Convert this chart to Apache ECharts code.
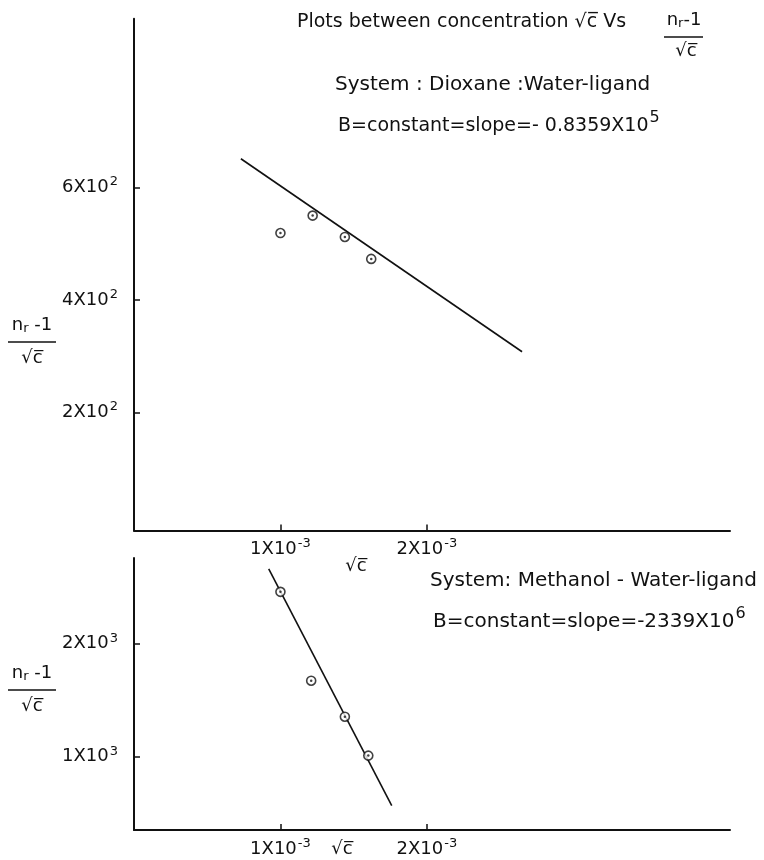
<!DOCTYPE html>
<html>
<head>
<meta charset="utf-8">
<script src="https://cdn.jsdelivr.net/npm/echarts@6/dist/echarts.min.js"></script>
<style>
html,body{margin:0;padding:0;background:#fff;}
#chart{width:764px;height:860px;}
</style>
</head>
<body>
<div id="chart"></div>
<script>
// ---- data ----
var xTickValues = [0.001, 0.002];
var xTickLabels = ['1X10{sup|-3}', '2X10{sup|-3}'];

// Dioxane : Water-ligand
var dioxaneX = [0.00100, 0.00122, 0.00144, 0.00162];
var dioxaneY = [519, 550, 512, 473];
var dioxaneFitX = [0.00073, 0.00265];
var dioxaneFitY = [651, 308];
var dioxaneYTicks = [200, 400, 600];
var dioxaneYLabels = ['2X10{sup|2}', '4X10{sup|2}', '6X10{sup|2}'];

// Methanol - Water-ligand
var methanolX = [0.00100, 0.00121, 0.00144, 0.00160];
var methanolY = [2460, 1673, 1354, 1009];
var methanolFitX = [0.00092, 0.00176];
var methanolFitY = [2664, 566];
var methanolYTicks = [1000, 2000];
var methanolYLabels = ['1X10{sup|3}', '2X10{sup|3}'];

function pairs(xs, ys){ return xs.map(function(x,i){ return [x, ys[i]]; }); }
function labelFmt(vals, labels){
  return function(v){
    for (var i=0;i<vals.length;i++){ if (Math.abs(v-vals[i]) < 1e-9*Math.max(1,Math.abs(v))) return labels[i]; }
    return '';
  };
}

var FONT = "'DejaVu Sans','Open Sans',sans-serif";
var rich = {
  sup: {fontSize: 13, fontFamily: FONT, color:'#111', padding:[0,0,11,1]},
  bsup: {fontSize: 16, fontFamily: FONT, color:'#111', padding:[0,0,16,1]},
  sub: {fontSize: 13, fontFamily: FONT, color:'#111', padding:[8,0,0,0]}
};
var axisLine = {show:true, onZero:false, lineStyle:{color:'#111', width:2}};

function xAxisDef(gi){
  return {
    type:'value', gridIndex:gi, min:0, max:0.00407,
    axisLine: axisLine,
    axisTick:{show:true, inside:true, length:6, customValues:xTickValues, lineStyle:{color:'#111', width:1.5}},
    axisLabel:{show:true, customValues:xTickValues, formatter:labelFmt(xTickValues, xTickLabels),
      fontSize:18, fontFamily:FONT, color:'#111', margin:7, rich:rich},
    splitLine:{show:false}
  };
}
function yAxisDef(gi, min, max, vals, labels){
  return {
    type:'value', gridIndex:gi, min:min, max:max,
    axisLine: axisLine,
    axisTick:{show:true, inside:true, length:6, customValues:vals, lineStyle:{color:'#111', width:1.5}},
    axisLabel:{show:true, customValues:vals, formatter:labelFmt(vals, labels),
      fontSize:18, fontFamily:FONT, color:'#111', margin:16, rich:rich},
    splitLine:{show:false}
  };
}

function markerSeries(xi, xs, ys){
  return [{
    type:'scatter', xAxisIndex:xi, yAxisIndex:xi, data:pairs(xs,ys),
    symbol:'circle', symbolSize:9, z:5,
    itemStyle:{color:'#fff', borderColor:'#111', borderWidth:1.6}
  },{
    type:'scatter', xAxisIndex:xi, yAxisIndex:xi, data:pairs(xs,ys),
    symbol:'circle', symbolSize:2.5, z:6,
    itemStyle:{color:'#111'}
  }];
}
function fitSeries(xi, xs, ys){
  return {
    type:'line', xAxisIndex:xi, yAxisIndex:xi, data:pairs(xs,ys),
    symbol:'none', z:3, lineStyle:{color:'#111', width:1.6}
  };
}

function txt(x, y, text, size, align){
  return {type:'text', x:x, y:y, z:10, style:{text:text, fontSize:size||19, fontFamily:FONT, fill:'#111',
    align:align||'left', verticalAlign:'middle', rich:rich}};
}
function hline(x1, x2, y){
  return {type:'line', z:10, shape:{x1:x1, y1:y, x2:x2, y2:y}, style:{stroke:'#111', lineWidth:1.6}};
}
function frac(cx, yTop){
  return [
    txt(cx, yTop, 'n{sub|r} -1', 18, 'center'),
    hline(cx-24, cx+24, yTop+17),
    txt(cx, yTop+33, '√c̅', 18, 'center')
  ];
}

var graphics = [
  txt(297, 22, 'Plots between concentration √c̅ Vs', 19),
  txt(684, 20, 'n{sub|r}-1', 18, 'center'),
  hline(664, 703, 37),
  txt(686, 51, '√c̅', 18, 'center'),
  txt(335, 85, 'System : Dioxane :Water-ligand', 20),
  txt(338, 126, 'B=constant=slope=- 0.8359X10{bsup|5}', 19),
  txt(430, 581, 'System: Methanol - Water-ligand', 20),
  txt(433, 622, 'B=constant=slope=-2339X10{bsup|6}', 20),
  txt(356, 566, '√c̅', 18, 'center'),
  txt(342, 849, '√c̅', 18, 'center')
].concat(frac(32, 325)).concat(frac(32, 673));

var chart = echarts.init(document.getElementById('chart'), null, {renderer:'canvas'});
chart.setOption({
  backgroundColor:'#fff',
  animation:false,
  grid:[
    {left:134, right:34, top:18.7, bottom:329.4},
    {left:134, right:34, top:558, bottom:30}
  ],
  xAxis:[xAxisDef(0), xAxisDef(1)],
  yAxis:[
    yAxisDef(0, -10, 900, dioxaneYTicks, dioxaneYLabels),
    yAxisDef(1, 350, 2760, methanolYTicks, methanolYLabels)
  ],
  series:[fitSeries(0, dioxaneFitX, dioxaneFitY)]
    .concat(markerSeries(0, dioxaneX, dioxaneY))
    .concat([fitSeries(1, methanolFitX, methanolFitY)])
    .concat(markerSeries(1, methanolX, methanolY)),
  graphic: graphics
});
</script>
</body>
</html>
